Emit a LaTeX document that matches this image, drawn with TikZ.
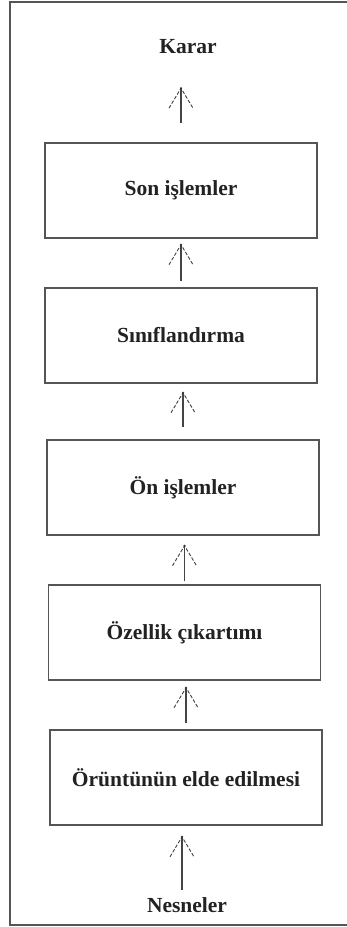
\documentclass[tikz,border=0pt]{standalone}
\usepackage{fontspec}
\setmainfont{Liberation Serif}
\usetikzlibrary{calc,decorations.markings}
\definecolor{linegray}{HTML}{555555}
\definecolor{txt}{HTML}{222222}
\begin{document}
\begin{tikzpicture}[x=1pt,y=-1pt,
  stagebox/.style={draw=linegray, line width=1.4pt, minimum width=272pt, minimum height=95pt, inner sep=0pt,
    font=\fontsize{21.5}{24}\selectfont\bfseries, text=txt},
  label/.style={inner sep=0pt, text height=15pt, text depth=5pt,
    font=\fontsize{21.5}{24}\selectfont\bfseries, text=txt},
  flow/.style={draw=linegray!80!black, line width=1.1pt,
    decoration={markings, mark=at position 1 with {
      \draw[black!75, line width=0.9pt, dash pattern=on 3.5pt off 1.8pt] (-20pt,12pt) -- (0,0) -- (-20pt,-12pt);
      \fill[black!80] (0,0) circle (1.2pt);}},
    postaction=decorate}]
\useasboundingbox (0,0) rectangle (347,927);
\draw[linegray, line width=1.6pt] (347,2) -- (10,2) -- (10,925) -- (347,925);

\node[label] (karar) at (188,48) {Karar};
\node[stagebox] (son) at (181,190.5) {Son işlemler};
\node[stagebox] (sinif) at (181,335.5) {Sınıflandırma};
\node[stagebox] (on) at (183,487.5) {Ön işlemler};
\node[stagebox] (oz) at (184.5,632.5) {Özellik çıkartımı};
\node[stagebox] (or) at (186,777.5) {Örüntünün elde edilmesi};
\node[label] (nes) at (187,907) {Nesneler};

\draw[flow] ($(son.north)+(0,-19)$) -- ($(son.north |- karar.south)+(0,30)$);
\draw[flow] ($(sinif.north)+(0,-6)$) -- ($(sinif.north |- son.south)+(0,6)$);
\draw[flow] ($(on.north)+(0,-12)$) -- ($(on.north |- sinif.south)+(0,9)$);
\draw[flow] ($(oz.north)+(0,-3)$) -- ($(oz.north |- on.south)+(0,10)$);
\draw[flow] ($(or.north)+(0,-6)$) -- ($(or.north |- oz.south)+(0,7)$);
\draw[flow] ($(nes.north)+(-5,-7)$) -- ($(nes.north -| or.north)+(-4,-60)$);
\end{tikzpicture}
\end{document}
